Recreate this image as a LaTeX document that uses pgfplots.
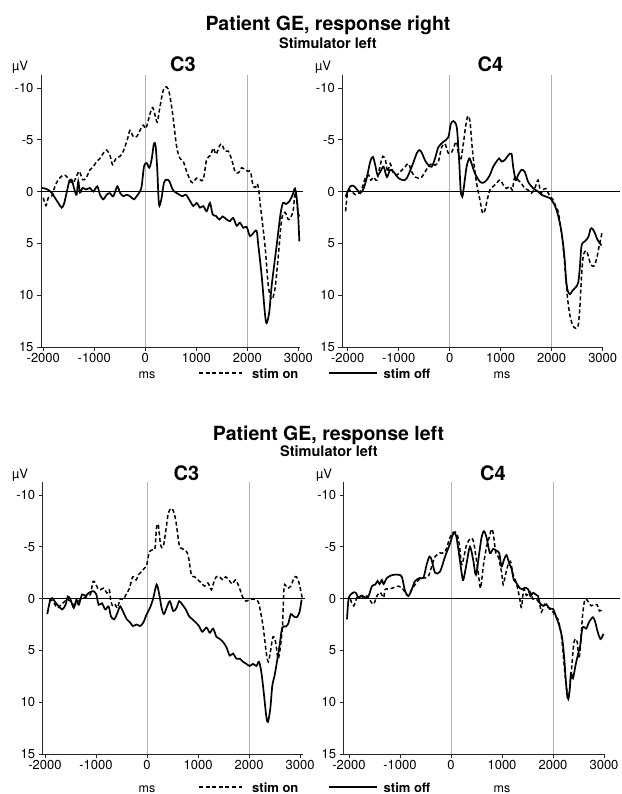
\documentclass[border=0pt]{standalone}
\usepackage{fontspec}
\setmainfont{TeX Gyre Heros}
\usepackage{pgfplots}
\pgfplotsset{compat=1.18}
\pgfplotsset{
 panel/.style={
  scale only axis, height=272pt,
  y dir=reverse, ymin=-11.25, ymax=15,
  axis x line*=bottom, axis y line*=left,
  axis line style={-, black!85, line width=0.9pt},
  xtick={-2000,-1000,0,1000,2000,3000},
  ytick={-10,-5,0,5,10,15},
  tick align=outside, major tick length=4pt,
  tick style={black!85, line width=0.9pt},
  ticklabel style={font=\fontsize{13}{15}\selectfont},
  xticklabel style={yshift=1pt},
  /pgf/number format/assume math mode=true,
  /pgf/number format/1000 sep={},
  clip=false,
 },
 on/.style={black, line width=1.5pt, dash pattern=on 4pt off 2.6pt, smooth, tension=0.5},
 off/.style={black, line width=1.7pt, smooth, tension=0.5},
 vgrid/.style={gray!60, line width=0.8pt},
 zline/.style={black, line width=0.8pt},
}
\begin{document}
\begin{tikzpicture}
\useasboundingbox (0,0) rectangle (621pt,-794pt);

% ---------- top left: C3, response right ----------
\begin{axis}[panel, at={(41pt,-75pt)}, anchor=north west, width=259.1pt, xmin=-2045, xmax=3035]
\addplot[vgrid] coordinates {(0,-11.25) (0,15)};
\addplot[vgrid] coordinates {(2000,-11.25) (2000,15)};
\addplot[zline] coordinates {(-2045,0) (3090,0)};
\addplot[on] coordinates {(-2000,0.6) (-1948,1.35) (-1902,0.6) (-1837,0.45) (-1771,-0.5) (-1706,-1.15) (-1608,-1.6) (-1542,-1.45) (-1477,-1.0) (-1412,-0.85) (-1346,-1.5) (-1294,-1.95) (-1229,-1.15) (-1163,-1.3) (-1085,-2.1) (-1020,-2.4) (-954,-2.9) (-889,-3.2) (-824,-3.7) (-758,-4.0) (-693,-3.5) (-641,-2.6) (-575,-3.2) (-497,-3.4) (-431,-3.9) (-353,-5.0) (-301,-5.9) (-235,-5.3) (-170,-5.3) (-105,-5.9) (-39,-6.4) (13,-6.1) (92,-7.5) (144,-8.1) (190,-7.4) (235,-6.7) (288,-8.2) (353,-9.8) (418,-10.1) (471,-9.5) (536,-7.5) (614,-4.35) (680,-3.2) (745,-2.9) (810,-1.95) (876,-1.15) (928,-0.85) (1007,-1.3) (1072,-1.15) (1137,-1.15) (1203,-3.1) (1281,-3.5) (1333,-4.2) (1386,-3.6) (1451,-4.35) (1497,-4.6) (1562,-3.9) (1627,-3.9) (1693,-3.1) (1758,-1.95) (1824,-1.8) (1889,-2.3) (1954,-2.1) (2020,-1.95) (2065,-1.9) (2110,-0.6) (2160,-0.4) (2195,-0.75) (2225,-0.1) (2255,1.3) (2346,5.2) (2412,9.1) (2477,10.4) (2542,9.4) (2608,6.2) (2673,2.7) (2739,2.0) (2804,2.7) (2850,2.5) (2900,1.8) (2935,0.1) (2967,0.8) (2990,1.9) (3020,2.4)};
\addplot[off] coordinates {(-2030,-0.35) (-1935,-0.25) (-1837,0.1) (-1771,0.6) (-1706,1.1) (-1641,1.55) (-1595,1.2) (-1542,0.1) (-1490,-1.0) (-1444,-1.15) (-1412,-0.6) (-1373,0.1) (-1346,0.3) (-1314,-1.0) (-1281,0.1) (-1229,-0.35) (-1163,-0.2) (-1085,-0.35) (-1020,0.0) (-941,-0.5) (-889,0.3) (-824,0.75) (-758,0.3) (-693,0.15) (-627,0.45) (-549,-0.5) (-497,0.1) (-431,0.45) (-366,0.3) (-301,0.45) (-222,0.75) (-170,0.45) (-118,0.1) (-72,-0.5) (-26,-2.4) (26,-2.75) (78,-2.3) (124,-3.1) (170,-4.65) (203,-4.35) (235,-2.1) (268,1.25) (314,0.75) (366,-0.85) (418,-1.15) (471,-1.0) (536,-0.2) (601,0.1) (667,0.3) (732,0.45) (797,0.3) (876,0.9) (941,1.4) (1007,1.1) (1072,1.55) (1137,1.4) (1203,1.9) (1268,1.1) (1320,2.2) (1386,2.35) (1451,2.7) (1516,2.4) (1595,2.7) (1660,2.85) (1725,2.55) (1791,3.3) (1856,3.0) (1922,3.5) (1987,3.4) (2052,4.3) (2118,4.0) (2183,3.8) (2216,5.2) (2281,8.1) (2346,11.8) (2379,12.7) (2431,11.6) (2477,9.1) (2575,5.2) (2650,2.2) (2700,1.1) (2760,1.2) (2830,0.9) (2889,0.3) (2935,-0.3) (2975,0.9) (3000,2.6) (3020,4.8)};
\end{axis}

% ---------- top right: C4, response right ----------
\begin{axis}[panel, at={(342.3pt,-75pt)}, anchor=north west, width=260.4pt, xmin=-2105, xmax=3000]
\addplot[vgrid] coordinates {(0,-11.25) (0,15)};
\addplot[vgrid] coordinates {(2000,-11.25) (2000,15)};
\addplot[zline] coordinates {(-2105,0) (3340,0)};
\addplot[on] coordinates {(-2040,1.9) (-2013,0.5) (-1980,-0.15) (-1915,0) (-1850,0.3) (-1785,0.15) (-1720,-0.3) (-1655,-1.3) (-1590,-1.6) (-1544,-1.1) (-1492,-1.4) (-1427,-1.1) (-1362,-2.55) (-1309,-3.4) (-1257,-3.0) (-1218,-1.9) (-1166,-2.7) (-1114,-1.9) (-1036,-1.6) (-971,-1.9) (-873,-2.4) (-808,-2.7) (-743,-1.9) (-678,-1.4) (-612,-1.3) (-547,-1.4) (-482,-1.9) (-417,-2.4) (-352,-2.7) (-287,-2.55) (-221,-2.9) (-156,-4.3) (-91,-4.6) (-26,-3.7) (39,-3.8) (104,-4.6) (137,-4.8) (169,-3.7) (215,-3.0) (267,-4.6) (319,-6.5) (358,-7.3) (397,-6.8) (430,-4.9) (463,-3.2) (528,-0.8) (593,0.8) (645,2.1) (691,1.8) (736,0.8) (788,-0.15) (853,-0.5) (919,-0.8) (971,-1.1) (1016,-0.95) (1049,-0.65) (1114,-0.3) (1179,-0.5) (1231,-0.15) (1257,-1.1) (1296,-1.4) (1342,-1.1) (1407,-0.8) (1472,-0.3) (1537,-0.15) (1603,0.15) (1668,-0.3) (1733,-1.1) (1785,0.15) (1831,-0.15) (1883,-0.3) (1948,0.3) (2026,0.8) (2078,1.4) (2130,2.0) (2195,4.1) (2248,6.5) (2293,9.4) (2345,11.6) (2410,12.9) (2476,13.2) (2521,12.9) (2554,11.0) (2586,8.1) (2619,6.2) (2671,5.7) (2717,6.2) (2762,7.0) (2827,7.2) (2880,6.5) (2932,5.2) (2985,4.0)};
\addplot[off] coordinates {(-2040,0.5) (-2013,0.15) (-1948,-0.5) (-1883,-0.55) (-1818,-0.2) (-1752,0.15) (-1687,-0.3) (-1622,-1.4) (-1557,-2.9) (-1505,-3.35) (-1459,-2.55) (-1414,-1.6) (-1362,-1.9) (-1296,-2.4) (-1231,-1.4) (-1166,-2.1) (-1101,-1.9) (-1003,-1.3) (-906,-1.1) (-840,-1.3) (-743,-2.4) (-645,-3.7) (-593,-4.0) (-547,-3.75) (-482,-3.0) (-417,-2.55) (-352,-2.4) (-287,-3.2) (-221,-4.3) (-124,-4.8) (-26,-5.25) (20,-6.5) (72,-6.8) (124,-6.5) (150,-5.7) (189,-2.7) (215,-0.15) (248,0.5) (280,-0.5) (332,-2.4) (384,-3.2) (430,-2.7) (495,-1.75) (593,-0.95) (658,-0.85) (723,-1.1) (788,-1.6) (853,-2.4) (919,-2.9) (971,-3.2) (1016,-2.9) (1081,-3.05) (1147,-3.5) (1212,-3.65) (1244,-2.4) (1296,-1.1) (1342,-1.6) (1407,-2.1) (1472,-1.9) (1537,-0.95) (1603,-0.5) (1668,-0.2) (1733,0) (1798,0.3) (1896,0.5) (1974,0.65) (2065,1.4) (2130,2.4) (2195,4.0) (2248,6.2) (2280,8.4) (2313,9.55) (2358,9.9) (2410,9.55) (2476,9.2) (2521,8.75) (2554,7.2) (2586,5.2) (2651,4.8) (2717,4.4) (2762,3.6) (2800,3.6) (2847,4.0) (2893,4.6) (2975,5.2)};
\end{axis}

% ---------- bottom left: C3, response left ----------
\begin{axis}[panel, at={(42.7pt,-482pt)}, anchor=north west, width=259.9pt, xmin=-2045, xmax=3050]
\addplot[vgrid] coordinates {(0,-11.25) (0,15)};
\addplot[vgrid] coordinates {(2000,-11.25) (2000,15)};
\addplot[zline] coordinates {(-2045,0) (3090,0)};
\addplot[on] coordinates {(-1920,0.2) (-1890,0.1) (-1825,0.4) (-1760,0.9) (-1695,0.65) (-1630,0.35) (-1565,0.1) (-1500,0.25) (-1435,0.6) (-1370,0.4) (-1305,0.1) (-1240,-0.05) (-1175,-0.2) (-1110,-0.4) (-1058,-1.65) (-1013,-1.5) (-968,-1.0) (-916,-0.85) (-851,-1.0) (-786,-0.55) (-740,-0.85) (-708,0.25) (-669,0.75) (-623,0.6) (-578,0.9) (-526,0) (-474,0.1) (-409,-0.4) (-344,-1.0) (-279,-2.1) (-214,-1.8) (-169,-2.3) (-104,-2.6) (-58,-2.9) (-6,-3.25) (45,-4.5) (110,-4.7) (156,-4.85) (188,-6.9) (221,-7.1) (266,-5.2) (318,-5.0) (370,-6.6) (416,-8.2) (468,-8.7) (513,-8.5) (565,-7.5) (630,-5.2) (675,-4.85) (740,-4.7) (805,-4.2) (870,-2.3) (935,-2.1) (1000,-1.8) (1065,-1.5) (1130,-1.2) (1195,-1.5) (1260,-0.85) (1305,-1.5) (1357,-2.1) (1422,-2.1) (1487,-1.8) (1539,-2.1) (1604,-1.8) (1669,-1.4) (1734,-1.8) (1799,-1.2) (1844,-0.55) (1890,0) (1942,0.25) (2006,0.1) (2071,0.05) (2136,0.1) (2188,0.4) (2234,1.5) (2279,2.8) (2340,5.3) (2378,6.1) (2417,5.2) (2469,3.7) (2521,4.2) (2567,5.8) (2599,5.2) (2632,3.9) (2660,2.3) (2688,-1.2) (2753,-1.0) (2818,-1.2) (2883,-2.0) (2929,-2.1) (2981,-1.5) (3045,0)};
\addplot[off] coordinates {(-1955,1.5) (-1903,0.25) (-1857,-0.05) (-1792,0.4) (-1727,0.75) (-1662,1.05) (-1597,0.6) (-1552,-0.2) (-1500,0.1) (-1435,0.9) (-1383,0.1) (-1338,0.6) (-1273,-0.4) (-1208,-0.25) (-1143,-0.55) (-1078,-0.7) (-1045,-0.7) (-994,-0.4) (-948,0.6) (-883,0.45) (-818,1.05) (-753,0.75) (-708,1.7) (-643,2.0) (-578,1.35) (-526,0.75) (-461,1.35) (-396,2.0) (-331,2.3) (-279,2.65) (-201,2.5) (-136,2.65) (-71,2.3) (-6,1.5) (58,0.9) (123,-0.05) (188,-1.35) (240,-0.4) (286,0.9) (331,1.5) (383,0.9) (448,0.25) (513,1.2) (578,0.9) (630,0.25) (695,0.6) (760,1.05) (825,1.7) (890,2.0) (955,2.3) (1019,2.65) (1084,3.2) (1166,2.8) (1231,3.3) (1296,2.9) (1362,3.7) (1427,3.9) (1492,4.2) (1557,4.7) (1622,5.5) (1687,5.3) (1752,5.8) (1818,5.8) (1883,6.1) (1948,6.3) (2013,6.5) (2078,6.3) (2143,6.5) (2195,6.1) (2241,7.1) (2287,9.0) (2339,11.4) (2371,11.9) (2417,10.6) (2456,8.4) (2502,7.4) (2547,6.1) (2599,4.5) (2651,2.8) (2720,2.7) (2770,2.4) (2818,1.5) (2870,1.7) (2935,1.8) (2990,1.3) (3030,0.1)};
\end{axis}

% ---------- bottom right: C4, response left ----------
\begin{axis}[panel, at={(343.7pt,-482pt)}, anchor=north west, width=260.3pt, xmin=-2104, xmax=3000]
\addplot[vgrid] coordinates {(0,-11.25) (0,15)};
\addplot[vgrid] coordinates {(2000,-11.25) (2000,15)};
\addplot[zline] coordinates {(-2104,0) (3310,0)};
\addplot[on] coordinates {(-1974,0.05) (-1909,0.7) (-1844,-0.1) (-1779,-0.25) (-1713,-0.1) (-1648,-0.25) (-1583,0.2) (-1518,0.55) (-1453,-0.25) (-1388,-0.6) (-1322,-0.1) (-1290,-0.9) (-1225,-0.9) (-1127,-1.05) (-1029,-1.2) (-964,-1.05) (-899,-0.6) (-834,-0.25) (-769,-0.9) (-704,-1.35) (-638,-1.8) (-573,-2.0) (-508,-2.0) (-443,-2.15) (-378,-3.1) (-313,-4.05) (-215,-4.4) (-117,-4.5) (-20,-5.9) (46,-6.4) (111,-6.3) (163,-5.2) (208,-3.3) (254,-4.05) (306,-5.2) (384,-5.8) (436,-5.6) (489,-4.05) (534,-2.5) (580,-1.0) (632,-3.1) (697,-5.0) (749,-5.9) (795,-6.7) (827,-6.3) (879,-4.4) (925,-4.05) (990,-2.6) (1023,-1.35) (1068,-2.3) (1121,-3.3) (1166,-3.6) (1218,-2.3) (1283,-1.5) (1349,0.05) (1381,0.85) (1427,-0.9) (1479,-0.3) (1544,-0.7) (1609,0.05) (1674,0.05) (1739,0.55) (1772,1.3) (1837,0.55) (1902,0.85) (1967,1.0) (2033,1.6) (2098,2.0) (2160,3.4) (2195,5.1) (2235,7.3) (2261,8.3) (2287,9.6) (2313,9.3) (2339,8.0) (2365,6.7) (2404,4.5) (2436,3.9) (2475,4.2) (2508,5.8) (2534,4.8) (2560,2.9) (2586,1.3) (2619,0.2) (2651,0.05) (2704,0.4) (2749,0.7) (2814,0.55) (2866,0.6) (2912,1.2) (2980,1.0)};
\addplot[off] coordinates {(-2039,2.0) (-2007,0.0) (-1941,-0.5) (-1876,-0.6) (-1811,-0.1) (-1746,-0.3) (-1681,-0.1) (-1616,-0.25) (-1550,-1.2) (-1485,-1.35) (-1440,-1.7) (-1401,-1.4) (-1355,-1.8) (-1322,-1.4) (-1257,-2.0) (-1192,-2.2) (-1127,-2.3) (-1029,-2.3) (-964,-2.1) (-899,-0.7) (-834,-0.25) (-769,-0.9) (-704,-1.7) (-606,-2.0) (-541,-2.0) (-476,-3.3) (-423,-4.05) (-378,-3.7) (-313,-2.5) (-215,-2.6) (-117,-4.05) (-20,-5.3) (46,-6.3) (98,-6.1) (143,-4.8) (208,-2.5) (241,-1.8) (306,-3.4) (371,-5.0) (436,-3.7) (489,-2.3) (554,-4.4) (599,-5.9) (645,-6.5) (697,-5.9) (762,-4.4) (827,-4.8) (893,-4.6) (945,-4.4) (990,-3.1) (1036,-3.7) (1088,-4.2) (1140,-3.4) (1186,-2.9) (1231,-1.8) (1283,-1.5) (1349,-1.0) (1401,-0.9) (1446,-1.05) (1511,-0.9) (1557,-0.25) (1609,-0.55) (1661,-0.4) (1707,-0.25) (1739,0.4) (1805,0.7) (1870,0.55) (1935,1.0) (2000,1.0) (2065,1.8) (2130,2.75) (2182,3.9) (2221,5.8) (2248,7.7) (2274,9.2) (2300,9.7) (2326,8.9) (2352,7.2) (2391,7.7) (2443,6.4) (2489,5.4) (2534,4.5) (2573,2.9) (2610,2.75) (2651,2.9) (2704,2.3) (2782,1.8) (2830,2.3) (2870,3.1) (2930,3.9) (2990,3.4)};
\end{axis}

% ---------- titles and labels ----------
\node[anchor=base, font=\bfseries\fontsize{19.5}{22}\selectfont] at (328pt,-31pt) {Patient GE, response right};
\node[anchor=base, font=\bfseries\fontsize{14.5}{17}\selectfont] at (328pt,-48.5pt) {Stimulator left};
\node[anchor=base, font=\bfseries\fontsize{20}{22}\selectfont] at (183pt,-72pt) {C3};
\node[anchor=base, font=\bfseries\fontsize{20}{22}\selectfont] at (490.5pt,-72pt) {C4};
\node[anchor=base, font=\fontsize{13}{15}\selectfont] at (20pt,-71pt) {µV};
\node[anchor=base, font=\fontsize{13}{15}\selectfont] at (323pt,-71pt) {µV};

\node[anchor=base, font=\bfseries\fontsize{19.5}{22}\selectfont] at (328.5pt,-440pt) {Patient GE, response left};
\node[anchor=base, font=\bfseries\fontsize{14.5}{17}\selectfont] at (329pt,-456.5pt) {Stimulator left};
\node[anchor=base, font=\bfseries\fontsize{20}{22}\selectfont] at (186.5pt,-480pt) {C3};
\node[anchor=base, font=\bfseries\fontsize{20}{22}\selectfont] at (493pt,-480pt) {C4};
\node[anchor=base, font=\fontsize{13}{15}\selectfont] at (20pt,-478pt) {µV};
\node[anchor=base, font=\fontsize{13}{15}\selectfont] at (324pt,-478pt) {µV};

% ---------- axis labels and legend keys ----------
\foreach \yb in {378, 792}{
  \node[anchor=base, font=\fontsize{12.5}{14}\selectfont] at (147pt,-\yb pt) {ms};
  \node[anchor=base, font=\fontsize{12.5}{14}\selectfont] at (502pt,-\yb pt) {ms};
  \draw[black, line width=1.3pt, dash pattern=on 4pt off 2.6pt] (199pt,-\yb pt+5pt) -- (242pt,-\yb pt+5pt);
  \node[anchor=base west, inner sep=0pt, font=\bfseries\fontsize{13}{15}\selectfont] at (252pt,-\yb pt) {stim on};
  \draw[black, line width=1.5pt] (329pt,-\yb pt+5pt) -- (377pt,-\yb pt+5pt);
  \node[anchor=base west, inner sep=0pt, font=\bfseries\fontsize{13}{15}\selectfont] at (383.5pt,-\yb pt) {stim off};
}
\end{tikzpicture}
\end{document}
